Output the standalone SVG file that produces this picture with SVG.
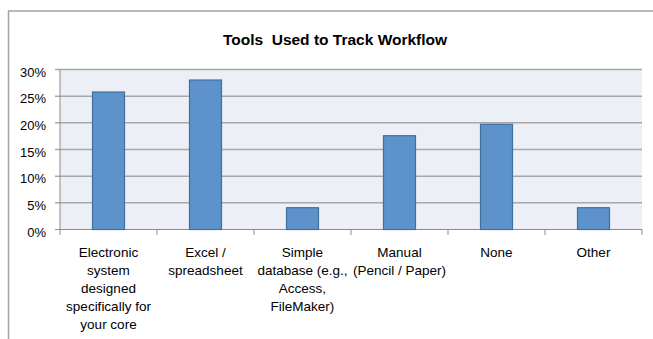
<svg xmlns="http://www.w3.org/2000/svg" width="653" height="339" viewBox="0 0 653 339">
  <style>
    .frame { fill: none; stroke: #a3a3a3; stroke-width: 1.5; }
    .plot { fill: #eceff5; }
    .grid { stroke: #a8a8a8; stroke-width: 1.5; }
    .axis { stroke: #8c8c8c; stroke-width: 1; fill: none; }
    .bar { fill: #5d92cb; stroke: #41709f; stroke-width: 1.2; }
    .title { font-family: "Liberation Sans", Arial, sans-serif; font-weight: bold; font-size: 15.5px; fill: #000; text-anchor: middle; white-space: pre; }
    .ylab { font-family: "Liberation Sans", Arial, sans-serif; font-size: 13px; fill: #000; text-anchor: end; }
    .xlab { font-family: "Liberation Sans", Arial, sans-serif; font-size: 13.5px; fill: #000; text-anchor: middle; }
  </style>
  <rect x="0" y="0" width="653" height="339" fill="#ffffff"/>
  <path class="frame" d="M8.5 339 V11 H653"/>
  <text class="title" x="335" y="44.5" xml:space="preserve">Tools  Used to Track Workflow</text>

  <g id="plot-area">
    <rect class="plot" x="60" y="69.5" width="582" height="160"/>
    <g id="gridlines">
      <line class="grid" x1="55" y1="69.5" x2="642" y2="69.5"/>
      <line class="grid" x1="55" y1="96.2" x2="642" y2="96.2"/>
      <line class="grid" x1="55" y1="122.8" x2="642" y2="122.8"/>
      <line class="grid" x1="55" y1="149.5" x2="642" y2="149.5"/>
      <line class="grid" x1="55" y1="176.2" x2="642" y2="176.2"/>
      <line class="grid" x1="55" y1="202.8" x2="642" y2="202.8"/>
    </g>
    <g id="axes">
      <path class="axis" d="M60 69.5 V229.5 H642"/>
      <path class="axis" d="M55 229.5 H60 M60 229.5 V235 M157 229.5 V235 M254 229.5 V235 M351 229.5 V235 M448 229.5 V235 M545 229.5 V235 M642 229.5 V235"/>
    </g>
    <g id="y-labels">
      <text class="ylab" x="46" y="76.5">30%</text>
      <text class="ylab" x="46" y="103.2">25%</text>
      <text class="ylab" x="46" y="129.8">20%</text>
      <text class="ylab" x="46" y="156.5">15%</text>
      <text class="ylab" x="46" y="183.2">10%</text>
      <text class="ylab" x="46" y="209.8">5%</text>
      <text class="ylab" x="46" y="236.5">0%</text>
    </g>
  </g>

  <g id="bars">
    <rect id="bar-electronic" class="bar" x="92.5" y="92" width="32" height="137.5"/>
    <rect id="bar-excel" class="bar" x="189.5" y="80" width="32" height="149.5"/>
    <rect id="bar-simple" class="bar" x="286.5" y="207.7" width="32" height="21.8"/>
    <rect id="bar-manual" class="bar" x="383.5" y="135.7" width="32" height="93.8"/>
    <rect id="bar-none" class="bar" x="480.5" y="124.3" width="32" height="105.2"/>
    <rect id="bar-other" class="bar" x="577.5" y="207.7" width="32" height="21.8"/>
  </g>

  <g id="x-labels">
    <g id="label-electronic">
      <text class="xlab" x="108.5" y="257">Electronic</text>
      <text class="xlab" x="108.5" y="275">system</text>
      <text class="xlab" x="108.5" y="293">designed</text>
      <text class="xlab" x="108.5" y="311">specifically for</text>
      <text class="xlab" x="108.5" y="329">your core</text>
    </g>
    <g id="label-excel">
      <text class="xlab" x="205.5" y="257">Excel /</text>
      <text class="xlab" x="205.5" y="275">spreadsheet</text>
    </g>
    <g id="label-simple">
      <text class="xlab" x="302.5" y="257">Simple</text>
      <text class="xlab" x="302.5" y="275">database (e.g.,</text>
      <text class="xlab" x="302.5" y="293">Access,</text>
      <text class="xlab" x="302.5" y="311">FileMaker)</text>
    </g>
    <g id="label-manual">
      <text class="xlab" x="399.5" y="257">Manual</text>
      <text class="xlab" x="399.5" y="275">(Pencil / Paper)</text>
    </g>
    <g id="label-none">
      <text class="xlab" x="496.5" y="257">None</text>
    </g>
    <g id="label-other">
      <text class="xlab" x="593.5" y="257">Other</text>
    </g>
  </g>
</svg>
